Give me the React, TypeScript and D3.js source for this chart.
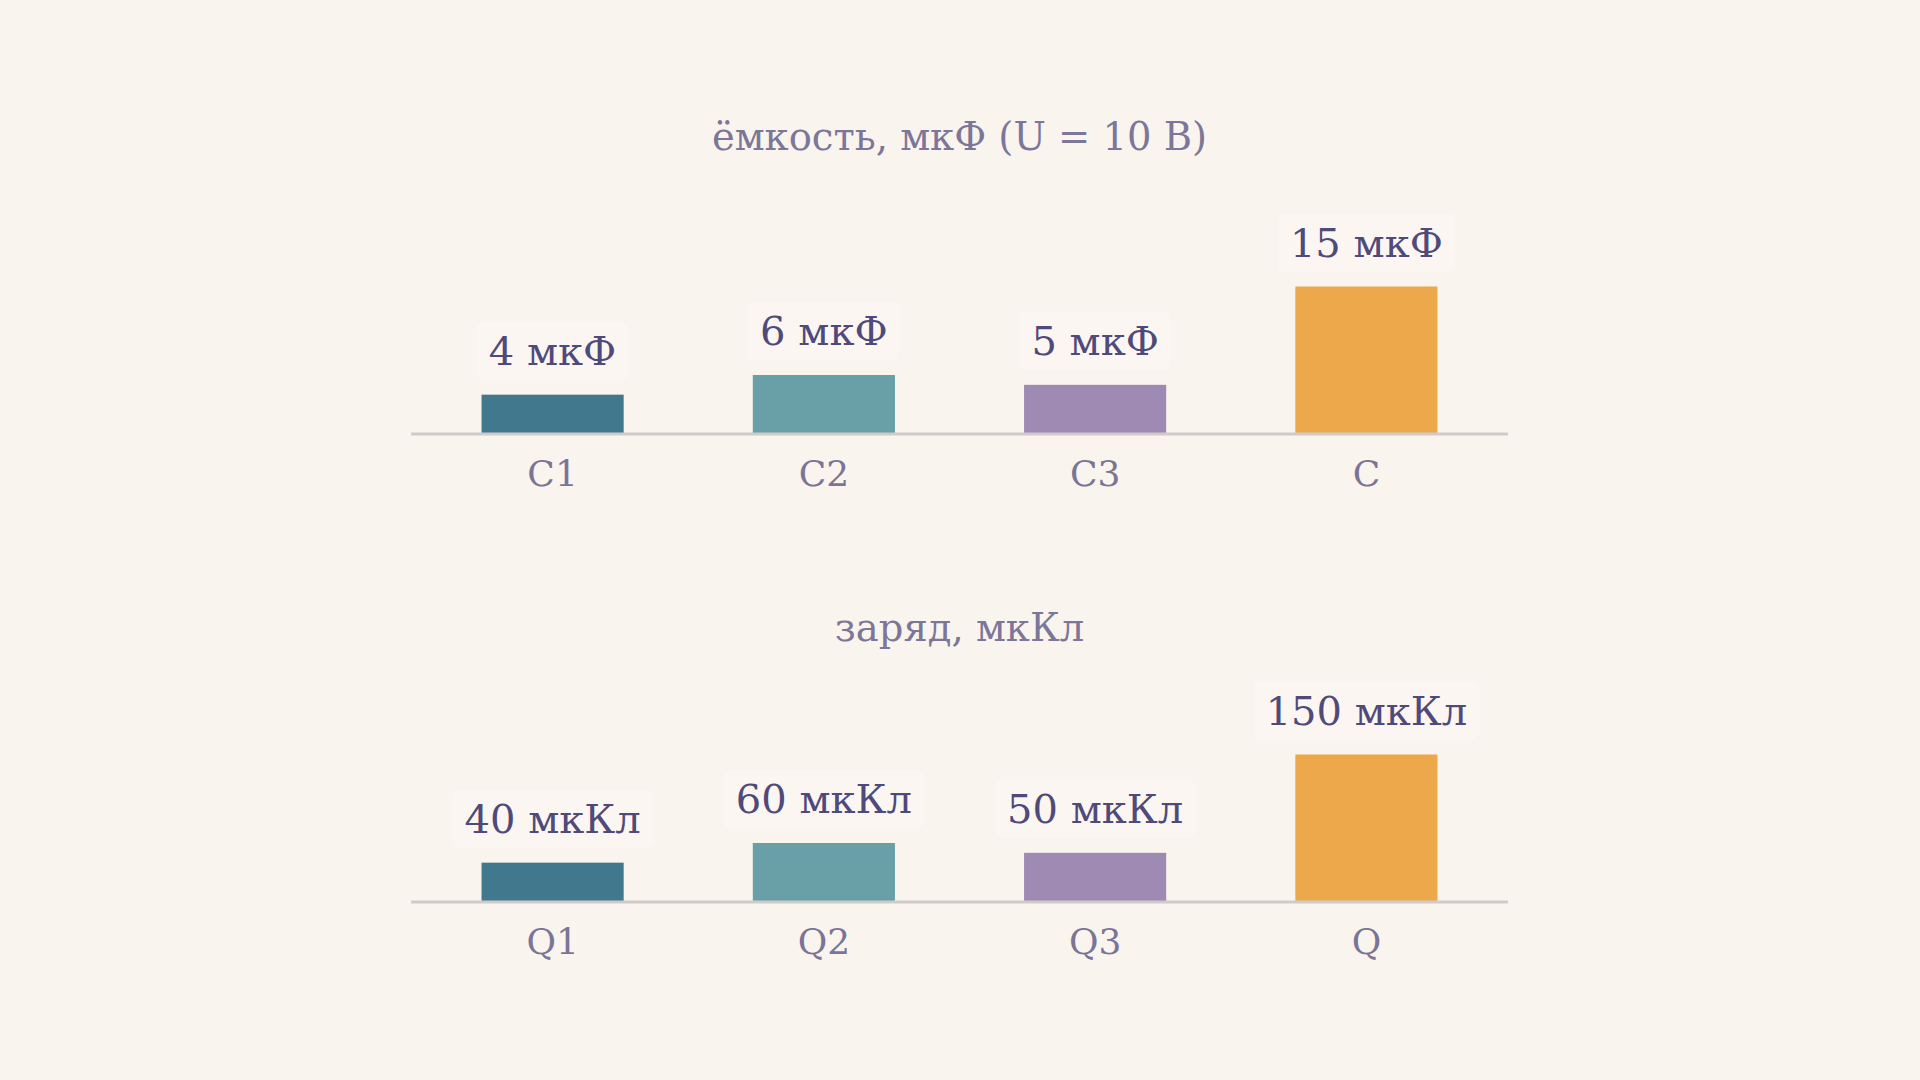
import * as d3 from "d3";
import { useEffect, useRef } from "react";

// capacitance panel (U = 10 В)
const capTitle = "ёмкость, мкФ (U = 10 В)";
const capCategories = ["C1", "C2", "C3", "C"];
const capValues = [4, 6, 5, 15];
const capUnit = "мкФ";

// charge panel
const chargeTitle = "заряд, мкКл";
const chargeCategories = ["Q1", "Q2", "Q3", "Q"];
const chargeValues = [40, 60, 50, 150];
const chargeUnit = "мкКл";

const barColors = ["#41788e", "#69a0a8", "#9e8ab2", "#eca84a"];

const W = 1920;
const H = 1080;
const FONT = "'DejaVu Serif', serif";

const drawPanel = (svg, { title, categories, values, unit, titleY, axisY }) => {
    const g = svg.append("g");

    const x = d3
        .scaleBand()
        .domain(categories)
        .range([411, 1508])
        .paddingInner(0.476)
        .paddingOuter(0.26);

    // bar height in px, the largest bar is ~147px tall in both panels
    const h = d3
        .scaleLinear()
        .domain([0, d3.max(values)])
        .range([0, 147.5]);

    g.append("text")
        .attr("x", (411 + 1508) / 2)
        .attr("y", titleY)
        .attr("text-anchor", "middle")
        .attr("font-family", FONT)
        .attr("font-size", 38.5)
        .attr("fill", "#7c7799")
        .text(title);

    g.selectAll("rect.bar")
        .data(values)
        .join("rect")
        .attr("class", "bar")
        .attr("x", (d, i) => x(categories[i]))
        .attr("width", x.bandwidth())
        .attr("y", (d) => axisY - h(d))
        .attr("height", (d) => h(d))
        .attr("fill", (d, i) => barColors[i]);

    g.append("line")
        .attr("x1", 411)
        .attr("x2", 1508)
        .attr("y1", axisY)
        .attr("y2", axisY)
        .attr("stroke", "#d0cacb")
        .attr("stroke-width", 3);

    // value labels with a faint plate behind them
    const labels = g
        .selectAll("g.vlabel")
        .data(values)
        .join("g")
        .attr("class", "vlabel");
    const vText = labels
        .append("text")
        .attr("x", (d, i) => x(categories[i]) + x.bandwidth() / 2)
        .attr("y", (d) => axisY - h(d) - 30)
        .attr("text-anchor", "middle")
        .attr("font-family", FONT)
        .attr("font-size", 40)
        .attr("fill", "#4f4a7a")
        .text((d) => `${d} ${unit}`);
    vText.each(function () {
        const b = this.getBBox();
        d3.select(this.parentNode)
            .insert("rect", "text")
            .attr("x", b.x - 12)
            .attr("y", b.y - 6)
            .attr("width", b.width + 24)
            .attr("height", b.height + 12)
            .attr("rx", 6)
            .attr("fill", "#fbf6f1");
    });

    g.selectAll("text.cat")
        .data(categories)
        .join("text")
        .attr("class", "cat")
        .attr("x", (d) => x(d) + x.bandwidth() / 2)
        .attr("y", axisY + 52)
        .attr("text-anchor", "middle")
        .attr("font-family", FONT)
        .attr("font-size", 36)
        .attr("fill", "#7a7597")
        .text((d) => d);
};

const App = () => {
    const ref = useRef();

    useEffect(() => {
        const svg = d3.select(ref.current);
        svg.selectAll("*").remove();

        svg.append("rect")
            .attr("width", W)
            .attr("height", H)
            .attr("fill", "#faf4ee");

        drawPanel(svg, {
            title: capTitle,
            categories: capCategories,
            values: capValues,
            unit: capUnit,
            titleY: 150,
            axisY: 434,
        });
        drawPanel(svg, {
            title: chargeTitle,
            categories: chargeCategories,
            values: chargeValues,
            unit: chargeUnit,
            titleY: 641,
            axisY: 902,
        });
    }, []);

    return (
        <svg
            ref={ref}
            width={W}
            height={H}
            style={{ position: "absolute", left: 0, top: 0 }}
        />
    );
};

export default App;
